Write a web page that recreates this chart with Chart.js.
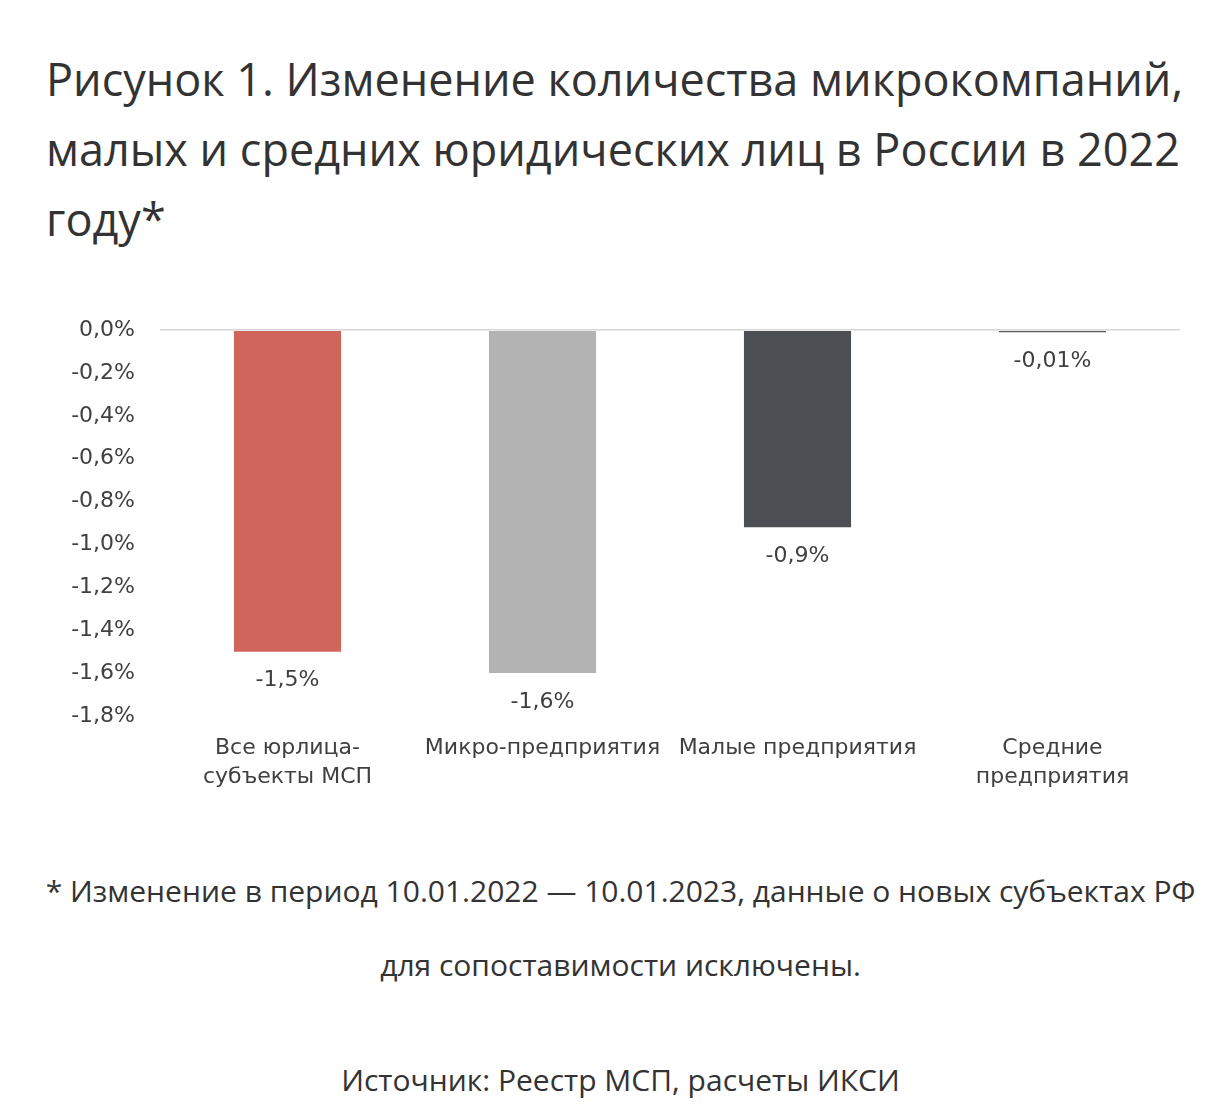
<!DOCTYPE html>
<html>
<head>
<meta charset="utf-8">
<script src="https://cdn.jsdelivr.net/npm/chart.js@4/dist/chart.umd.min.js"></script>
<style>
  body { margin: 0; background: #fff; width: 1223px; height: 1105px; overflow: hidden; font-family: "Open Sans", sans-serif; color: #333; }
  h1 { position: absolute; left: 46px; top: 44px; margin: 0; font-weight: 400; font-size: 45px; line-height: 70px; width: 1160px; color: #333; }
  #wrap { position: absolute; left: 0; top: 292px; width: 1223px; height: 518px; }
  .note { position: absolute; left: 9px; width: 1223px; text-align: center; font-size: 30px; line-height: 40px; color: #333; margin: 0; }
</style>
</head>
<body>
<h1>Рисунок 1. Изменение количества микрокомпаний, малых и средних юридических лиц в России в 2022 году*</h1>
<div id="wrap"><canvas id="chart"></canvas></div>
<p class="note" style="top:871px">* Изменение в период 10.01.2022 — 10.01.2023, данные о новых субъектах РФ</p>
<p class="note" style="top:945px">для сопоставимости исключены.</p>
<p class="note" style="top:1060px">Источник: Реестр МСП, расчеты ИКСИ</p>
<script>
var categories = [
    ["Все юрлица-", "субъекты МСП"],
    "Микро-предприятия",
    "Малые предприятия",
    ["Средние", "предприятия"]
];
var values = [-1.5, -1.6, -0.92, -0.01];
var valueLabels = ["-1,5%", "-1,6%", "-0,9%", "-0,01%"];
var barColors = ["#d0655c", "#b3b3b3", "#4b4e52", "#5a5a5a"];
var yTicks = [0, -0.2, -0.4, -0.6, -0.8, -1.0, -1.2, -1.4, -1.6, -1.8];

var chartFont = "'DejaVu Sans', sans-serif";

var valueLabelPlugin = {
    id: 'valueLabels',
    afterDatasetsDraw: function(chart) {
        var ctx = chart.ctx;
        var meta = chart.getDatasetMeta(0);
        ctx.save();
        ctx.font = "22px " + chartFont;
        ctx.fillStyle = "#404040";
        ctx.textAlign = "center";
        ctx.textBaseline = "middle";
        meta.data.forEach(function(bar, i) {
            ctx.fillText(valueLabels[i], bar.x, bar.y + 29);
        });
        ctx.restore();
    }
};

new Chart(document.getElementById("chart"), {
    type: 'bar',
    data: {
        labels: categories,
        datasets: [{
            data: values,
            backgroundColor: barColors,
            borderWidth: 0,
            categoryPercentage: 1,
            barPercentage: 0.42
        }]
    },
    options: {
        responsive: true,
        maintainAspectRatio: false,
        animation: false,
        layout: { padding: { top: 16, right: 43, left: 0, bottom: 0 } },
        plugins: {
            legend: { display: false },
            tooltip: { enabled: false }
        },
        scales: {
            x: {
                grid: { display: false, drawTicks: false },
                border: { display: false },
                ticks: {
                    color: "#404040",
                    font: { family: chartFont, size: 22, lineHeight: 1.32 },
                    padding: 18,
                    maxRotation: 0,
                    autoSkip: false
                }
            },
            y: {
                min: -1.8,
                max: 0,
                afterFit: function(scale) { scale.width = 160; },
                afterBuildTicks: function(scale) {
                    scale.ticks = yTicks.map(function(v) { return { value: v }; });
                },
                grid: {
                    drawTicks: false,
                    color: function(c) { return c.tick && c.tick.value === 0 ? "#d6d6d6" : "rgba(0,0,0,0)"; },
                    lineWidth: 1.5
                },
                border: { display: false },
                ticks: {
                    color: "#404040",
                    font: { family: chartFont, size: 22 },
                    padding: 25,
                    callback: function(v) { return v.toFixed(1).replace(".", ",") + "%"; }
                }
            }
        }
    },
    plugins: [valueLabelPlugin]
});
</script>
</body>
</html>
